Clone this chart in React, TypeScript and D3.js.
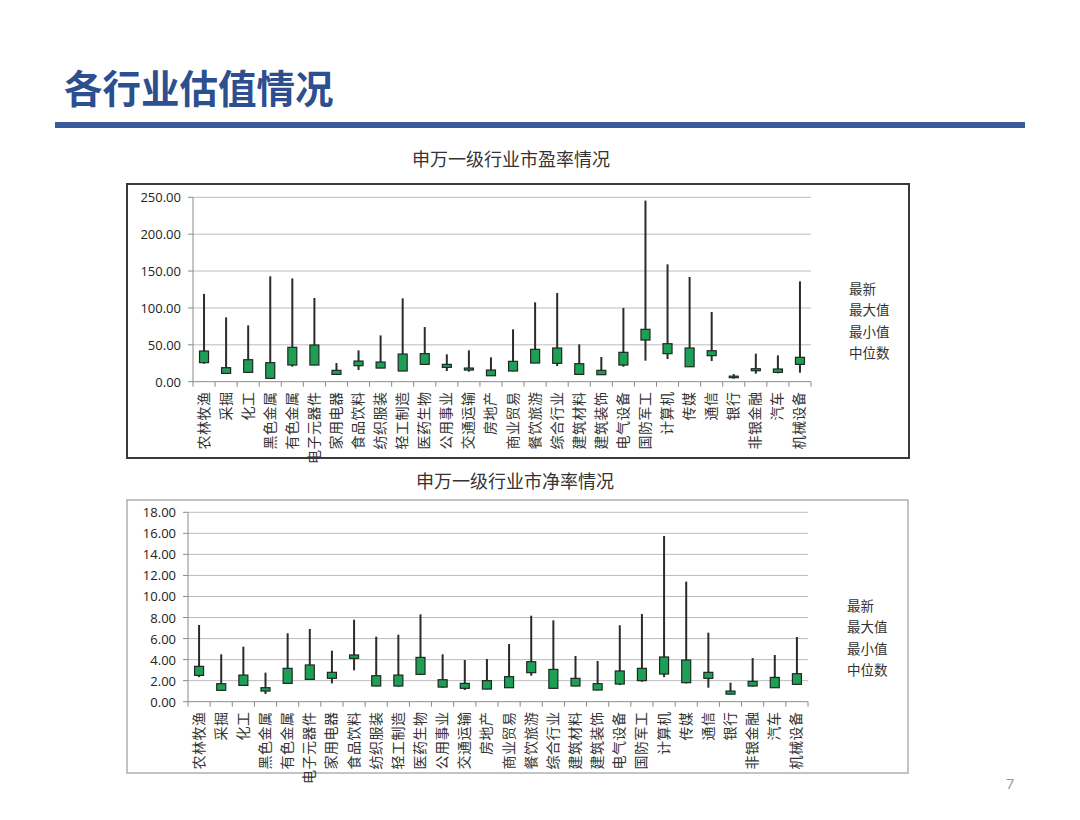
import React from "react";
import * as d3 from "d3";

const categories = ["农林牧渔","采掘","化工","黑色金属","有色金属","电子元器件","家用电器","食品饮料","纺织服装","轻工制造","医药生物","公用事业","交通运输","房地产","商业贸易","餐饮旅游","综合行业","建筑材料","建筑装饰","电气设备","国防军工","计算机","传媒","通信","银行","非银金融","汽车","机械设备"];

const legendLabels = ["最新", "最大值", "最小值", "中位数"];

// 市盈率 (PE)
const peLatest = [25.8, 11.3, 12.7, 4.5, 22.6, 22.6, 9.9, 21.7, 18.5, 14.5, 23.5, 19.4, 15.8, 8.1, 14.5, 25.3, 24.9, 9.9, 9.5, 22.6, 56.5, 38.0, 20.3, 35.3, 6.0, 14.9, 12.7, 23.5];
const peMax = [119, 87.2, 76.4, 142.9, 140, 113.5, 25.3, 42.5, 62.8, 113.0, 74.1, 37.1, 42.5, 33.0, 71.0, 107.6, 120.3, 50.6, 33.5, 99.9, 245.5, 159.1, 142.0, 94.5, 10.4, 38.0, 35.7, 136.1];
const peMin = [24.4, 11.0, 12.5, 4.3, 20.3, 22.4, 9.7, 15.8, 18.3, 14.3, 23.3, 14.5, 13.6, 7.7, 14.2, 25.1, 21.2, 9.7, 9.3, 20.3, 28.5, 30.7, 20.1, 28.0, 4.1, 10.8, 11.3, 12.2];
const peMedian = [41.6, 19.0, 29.8, 25.8, 46.6, 49.7, 15.4, 28.0, 26.7, 37.5, 38.0, 23.5, 18.5, 15.8, 27.6, 43.9, 45.7, 24.4, 15.4, 39.8, 71.0, 51.5, 45.7, 42.0, 7.5, 17.6, 17.2, 33.0];
const peTicks = [0, 50, 100, 150, 200, 250];

// 市净率 (PB)
const pbLatest = [2.50, 1.08, 1.55, 1.01, 1.74, 2.12, 2.22, 4.12, 1.49, 1.49, 2.60, 1.39, 1.27, 1.20, 1.33, 2.76, 1.27, 1.49, 1.11, 1.68, 2.00, 2.63, 1.81, 2.22, 0.72, 1.49, 1.33, 1.65];
const pbMax = [7.29, 4.50, 5.23, 2.76, 6.50, 6.91, 4.85, 7.79, 6.18, 6.37, 8.30, 4.50, 3.96, 4.06, 5.48, 8.17, 7.73, 4.34, 3.87, 7.26, 8.33, 15.75, 11.41, 6.56, 1.81, 4.15, 4.44, 6.15];
const pbMin = [2.34, 1.06, 1.53, 0.73, 1.72, 2.10, 1.74, 2.98, 1.47, 1.43, 2.58, 1.33, 1.11, 1.18, 1.30, 2.47, 1.25, 1.47, 1.09, 1.58, 1.90, 2.34, 1.74, 1.33, 0.70, 1.43, 1.31, 1.63];
const pbMedian = [3.36, 1.71, 2.53, 1.33, 3.17, 3.49, 2.79, 4.44, 2.47, 2.53, 4.21, 2.09, 1.74, 2.00, 2.38, 3.80, 3.07, 2.22, 1.71, 2.92, 3.17, 4.25, 3.96, 2.79, 1.01, 1.93, 2.31, 2.66];
const pbTicks = [0, 2, 4, 6, 8, 10, 12, 14, 16, 18];

const CJK = "'Noto Sans CJK SC', 'Noto Sans', sans-serif";
const NUM = "'Open Sans', 'Liberation Sans', sans-serif";

type ChartProps = {
  frame: { x: number; y: number; w: number; h: number };
  frameStroke: string;
  frameWidth: number;
  plot: { left: number; right: number; top: number; bottom: number };
  domainMax: number;
  ticks: number[];
  title: string;
  titleX: number;
  titleY: number;
  legendX: number;
  legendY: number;
  latest: number[];
  maxV: number[];
  minV: number[];
  median: number[];
};

function StockChart(p: ChartProps) {
  const x = d3.scaleBand<string>().domain(categories).range([p.plot.left, p.plot.right]);
  const y = d3.scaleLinear().domain([0, p.domainMax]).range([p.plot.bottom, p.plot.top]);
  const fmt = d3.format(".2f");
  const bw = 9;
  const charStep = 14.5;
  const boundaries = d3.range(categories.length + 1).map((i) => p.plot.left + i * x.step());
  return (
    <g>
      <rect x={p.frame.x} y={p.frame.y} width={p.frame.w} height={p.frame.h} fill="#fff" stroke={p.frameStroke} strokeWidth={p.frameWidth} />
      <text x={p.titleX} y={p.titleY} textAnchor="middle" dominantBaseline="central" fontFamily={CJK} fontSize={18} fill="#333">{p.title}</text>
      {p.ticks.map((t) => (
        <g key={t}>
          {t > 0 && <line x1={p.plot.left} x2={p.plot.right} y1={y(t)} y2={y(t)} stroke="#bdbdbd" strokeWidth={1} />}
          <line x1={p.plot.left - 5} x2={p.plot.left} y1={y(t)} y2={y(t)} stroke="#8a8a8a" strokeWidth={1} />
          <text x={p.plot.left - 12} y={y(t)} textAnchor="end" dominantBaseline="central" fontFamily={NUM} fontSize={13} fill="#222">{fmt(t)}</text>
        </g>
      ))}
      <line x1={p.plot.left} x2={p.plot.left} y1={p.plot.top} y2={p.plot.bottom} stroke="#8a8a8a" strokeWidth={1} />
      <line x1={p.plot.left} x2={p.plot.right} y1={p.plot.bottom} y2={p.plot.bottom} stroke="#8a8a8a" strokeWidth={1} />
      {boundaries.map((bx, i) => (
        <line key={i} x1={bx} x2={bx} y1={p.plot.bottom} y2={p.plot.bottom + 5} stroke="#8a8a8a" strokeWidth={1} />
      ))}
      {categories.map((c, i) => {
        const cx = (x(c) as number) + x.bandwidth() / 2;
        const hi = Math.max(p.latest[i], p.median[i]);
        const lo = Math.min(p.latest[i], p.median[i]);
        const chars = Array.from(c);
        const n = chars.length;
        return (
          <g key={c}>
            <line x1={cx} x2={cx} y1={y(p.maxV[i])} y2={y(p.minV[i])} stroke="#2b2b2b" strokeWidth={2} />
            <rect x={cx - bw / 2} y={y(hi)} width={bw} height={Math.max(1.5, y(lo) - y(hi))} fill="#1f9e55" stroke="#1d2a22" strokeWidth={1.2} />
            {chars.map((ch, k) => {
              const cy = p.plot.bottom + 10 + (n - 1 - k) * charStep + charStep / 2;
              return (
                <text
                  key={k}
                  transform={`translate(${cx - 1.5},${cy}) rotate(-90)`}
                  textAnchor="middle"
                  dominantBaseline="central"
                  fontFamily={CJK}
                  fontSize={14}
                  fill="#333"
                >
                  {ch}
                </text>
              );
            })}
          </g>
        );
      })}
      {legendLabels.map((l, i) => (
        <text key={l} x={p.legendX} y={p.legendY + i * 21.3} dominantBaseline="central" fontFamily={CJK} fontSize={13.5} fill="#333">{l}</text>
      ))}
    </g>
  );
}

export default function App() {
  return (
    <svg width={1080} height={820} style={{ position: "absolute", left: 0, top: 0, background: "#fff" }}>
      <rect x={0} y={0} width={1080} height={820} fill="#fff" />
      <text x={64} y={86} dominantBaseline="central" fontFamily={CJK} fontWeight={700} fontSize={38.5} fill="#2d4f8f">各行业估值情况</text>
      <rect x={55} y={122} width={970} height={6} fill="#3a5b9b" />
      <StockChart
        frame={{ x: 127, y: 184, w: 782, h: 274 }}
        frameStroke="#3a3a3a"
        frameWidth={2}
        plot={{ left: 193, right: 811, top: 197.3, bottom: 381.7 }}
        domainMax={250}
        ticks={peTicks}
        title="申万一级行业市盈率情况"
        titleX={511}
        titleY={158}
        legendX={849}
        legendY={288}
        latest={peLatest}
        maxV={peMax}
        minV={peMin}
        median={peMedian}
      />
      <StockChart
        frame={{ x: 127, y: 500, w: 781, h: 273 }}
        frameStroke="#b0b0b0"
        frameWidth={1.5}
        plot={{ left: 188, right: 808, top: 512.3, bottom: 701.7 }}
        domainMax={18}
        ticks={pbTicks}
        title="申万一级行业市净率情况"
        titleX={515}
        titleY={480}
        legendX={847}
        legendY={605}
        latest={pbLatest}
        maxV={pbMax}
        minV={pbMin}
        median={pbMedian}
      />
      <text x={1010} y={783} textAnchor="middle" dominantBaseline="central" fontFamily={NUM} fontSize={15} fill="#999">7</text>
    </svg>
  );
}
